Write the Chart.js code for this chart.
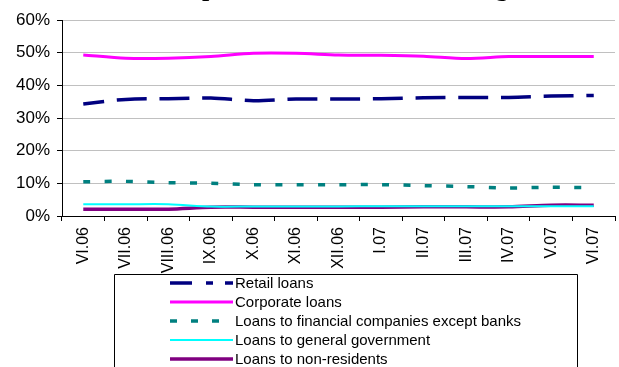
<!DOCTYPE html>
<html>
<head>
<meta charset="utf-8">
<script src="https://cdn.jsdelivr.net/npm/chart.js@4.4.1/dist/chart.umd.min.js"></script>
<style>
  html, body { margin: 0; padding: 0; background: #fff; overflow: hidden; }
  #wrap { position: relative; width: 619px; height: 367px; overflow: hidden; }
  #title {
    position: absolute; left: 0; width: 619px; top: -27px;
    text-align: center; font: bold 26px "Liberation Serif", "Times New Roman", serif;
    color: #000; white-space: nowrap; padding-left: 38px; box-sizing: border-box;
  }
  canvas { position: absolute; left: 0; top: 0; }
</style>
</head>
<body>
<div id="wrap">
  <canvas id="chart" width="619" height="367"></canvas>
  <div id="title">Composition of loans in banking</div>
</div>
<script>
// Monthly share of each loan type in total loans (%)
const categories = ['VI.06', 'VII.06', 'VIII.06', 'IX.06', 'X.06', 'XI.06', 'XII.06',
                    'I.07', 'II.07', 'III.07', 'IV.07', 'V.07', 'VI.07'];
const retailLoans      = [34.3, 35.7, 35.9, 36.1, 35.3, 35.8, 35.8, 35.9, 36.2, 36.3, 36.3, 36.7, 36.9];
const corporateLoans   = [49.3, 48.3, 48.3, 48.8, 49.8, 49.8, 49.3, 49.2, 48.9, 48.2, 48.8, 48.8, 48.8];
const financialLoans   = [10.5, 10.6, 10.2, 10.0, 9.6, 9.6, 9.6, 9.6, 9.3, 9.0, 8.6, 8.8, 8.7];
const governmentLoans  = [3.6, 3.6, 3.6, 2.9, 2.9, 2.9, 2.9, 3.0, 3.0, 3.0, 3.0, 3.0, 3.0];
const nonResidentLoans = [2.1, 2.1, 2.1, 2.7, 2.7, 2.7, 2.7, 2.7, 2.8, 2.8, 2.8, 3.3, 3.3];
const yTicks = [0, 10, 20, 30, 40, 50, 60];

const FONT = '"Liberation Sans", Arial, sans-serif';

// Boxed legend listing the series vertically under the axis labels
const boxedLegend = {
  id: 'boxedLegend',
  afterDraw(chart) {
    const ctx = chart.ctx;
    const box = { left: 114.5, top: 274.5, right: 577.5 };
    ctx.save();
    ctx.strokeStyle = '#000';
    ctx.lineWidth = 1;
    ctx.beginPath();
    ctx.moveTo(box.left, 400);
    ctx.lineTo(box.left, box.top);
    ctx.lineTo(box.right, box.top);
    ctx.lineTo(box.right, 400);
    ctx.stroke();
    ctx.font = '15px ' + FONT;
    ctx.textBaseline = 'middle';
    ctx.fillStyle = '#000';
    chart.data.datasets.forEach((ds, i) => {
      const y = 283 + i * 19;
      ctx.save();
      ctx.strokeStyle = ds.borderColor;
      ctx.lineWidth = ds.borderWidth;
      ctx.setLineDash(ds.legendDash || []);
      ctx.beginPath();
      ctx.moveTo(170, y);
      ctx.lineTo(233, y);
      ctx.stroke();
      ctx.restore();
      ctx.fillText(ds.label, 235, y + 1);
    });
    ctx.restore();
  }
};

new Chart(document.getElementById('chart'), {
  type: 'line',
  data: {
    labels: categories,
    datasets: [
      { label: 'Retail loans', data: retailLoans, borderColor: '#000080', borderWidth: 3.5,
        borderDash: [30, 12.7], borderDashOffset: 9, legendDash: [22, 14, 7, 12, 8] },
      { label: 'Corporate loans', data: corporateLoans, borderColor: '#FF00FF', borderWidth: 3 },
      { label: 'Loans to financial companies except banks', data: financialLoans, borderColor: '#008080',
        borderWidth: 3.5, borderDash: [7, 14.35], legendDash: [7, 14] },
      { label: 'Loans to general government', data: governmentLoans, borderColor: '#00FFFF', borderWidth: 2 },
      { label: 'Loans to non-residents', data: nonResidentLoans, borderColor: '#800080', borderWidth: 3.5 }
    ]
  },
  options: {
    responsive: false,
    animation: false,
    devicePixelRatio: 1,
    layout: { padding: { top: 20, right: 1, left: 0, bottom: 0 } },
    elements: {
      point: { radius: 0, hoverRadius: 0 },
      line: { tension: 0.3, fill: false, borderCapStyle: 'butt' }
    },
    plugins: {
      legend: { display: false },
      title: { display: false },
      tooltip: { enabled: false }
    },
    scales: {
      x: {
        type: 'category',
        offset: true,
        afterFit(scale) { scale.height = 151; },
        grid: { offset: true, drawOnChartArea: false, drawTicks: true, tickLength: 5, color: '#000' },
        border: { color: '#000', width: 1 },
        ticks: {
          color: '#000', font: { family: FONT, size: 16 },
          minRotation: 90, maxRotation: 90, autoSkip: false, padding: 6
        }
      },
      y: {
        min: 0, max: 60,
        afterFit(scale) { scale.width = 62; },
        afterBuildTicks(scale) { scale.ticks = yTicks.map(v => ({ value: v })); },
        grid: { color: '#c0c0c0', tickColor: '#000', tickLength: 5, drawTicks: true },
        border: { color: '#000', width: 1 },
        ticks: {
          color: '#000', font: { family: FONT, size: 17 }, padding: 7,
          callback: v => v + '%'
        }
      }
    }
  },
  plugins: [boxedLegend]
});
</script>
</body>
</html>
